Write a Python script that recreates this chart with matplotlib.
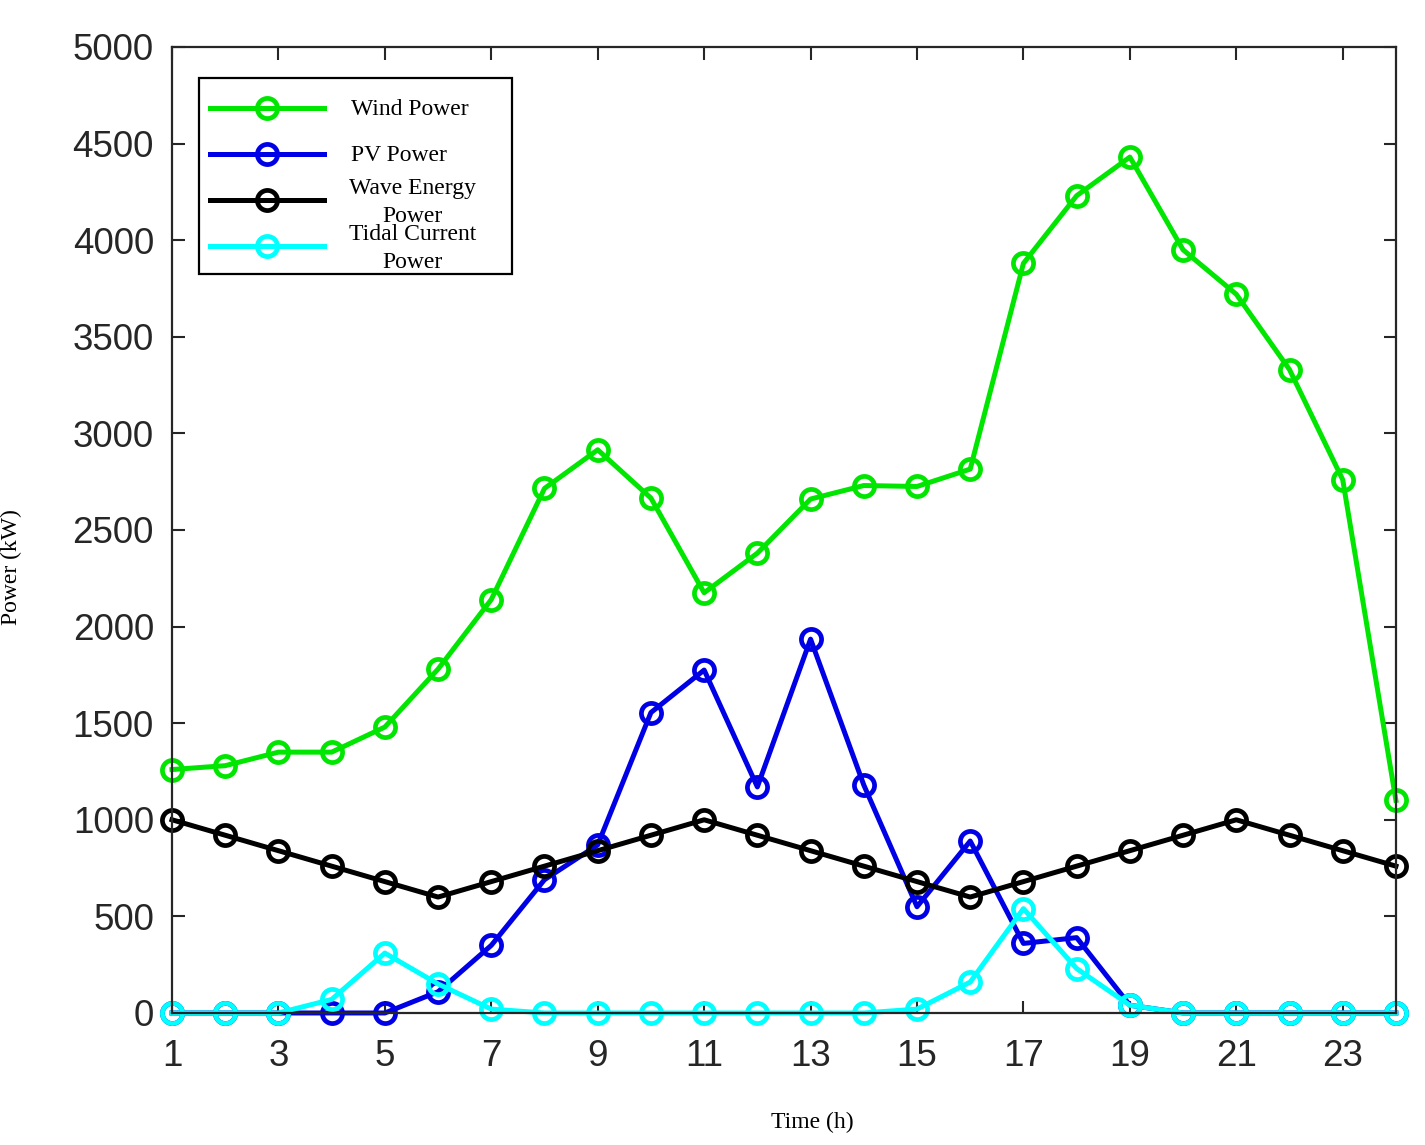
import matplotlib.pyplot as plt
from matplotlib.patches import Rectangle
import numpy as np

# hourly power output of each source (kW)
hours = np.arange(1, 25)
wind_power = [1260, 1280, 1350, 1350, 1480, 1780, 2140, 2715, 2915, 2665, 2175, 2380,
              2660, 2730, 2725, 2815, 3880, 4230, 4430, 3950, 3720, 3330, 2760, 1100]
pv_power = [0, 0, 0, 0, 0, 110, 350, 690, 870, 1555, 1775, 1170,
            1935, 1180, 550, 890, 360, 390, 40, 0, 0, 0, 0, 0]
wave_power = [1000, 920, 840, 760, 680, 600, 680, 760, 840, 920, 1000, 920,
              840, 760, 680, 600, 680, 760, 840, 920, 1000, 920, 840, 760]
tidal_power = [0, 0, 0, 70, 310, 150, 20, 0, 0, 0, 0, 0,
               0, 0, 20, 160, 540, 230, 40, 0, 0, 0, 0, 0]

labels = ["Wind Power", "PV Power", "Wave Energy\nPower", "Tidal Current\nPower"]
colors = ["#00e600", "#0000e6", "#000000", "#00ffff"]
values = [wind_power, pv_power, wave_power, tidal_power]

W, H = 1425, 1145
fig = plt.figure(figsize=(W / 100, H / 100), dpi=100)
ax = fig.add_axes([0.1207, 0.1153, 0.8589, 0.8437])

#one line per source, open circles like the matlab original
lines = []
for vals, col in zip(values, colors):
    ln, = ax.plot(hours, vals, color=col, lw=3.6, marker='o', ms=14.5, mew=3.4,
                  mfc='none', mec=col, clip_on=False)
    lines.append(ln)

ax.set_xlim(1, 24)
ax.set_ylim(0, 5000)
ax.set_xticks(np.arange(1, 24, 2))
ax.set_yticks(np.arange(0, 5001, 500))

tick_font = {'family': 'Liberation Sans', 'size': 26.5}
ax.set_xticklabels([str(h) for h in np.arange(1, 24, 2)], fontdict=tick_font)
ax.set_yticklabels([str(v) for v in np.arange(0, 5001, 500)], fontdict=tick_font)
ax.tick_params(axis='both', direction='in', length=9, width=1.5, colors='#262626',
               top=True, right=True)
ax.tick_params(axis='x', pad=19)
ax.tick_params(axis='y', pad=13)
for sp in ax.spines.values():
    sp.set_linewidth(1.6)
    sp.set_color('#262626')

label_font = {'family': 'Liberation Serif', 'size': 17}
ax.set_xlabel("Time (h)", fontdict=label_font)
ax.set_ylabel("Power (kW)", fontdict=label_font)
ax.xaxis.set_label_coords(0.523, -0.102)
ax.yaxis.set_label_coords(-0.1225, 0.462)

# legend: matlab-style box, rows at fixed pitch, long wrapped labels overlap
def ax_xy(px, py):
    x0, x1, y0, y1 = 172, 1396, 1013, 47
    return (px - x0) / (x1 - x0), (py - y0) / (y1 - y0)

leg = ax.legend(lines, [""] * 4, loc='upper left', bbox_to_anchor=ax_xy(210, 96.4),
                borderaxespad=0, borderpad=0, prop={'size': 10}, handlelength=8.2,
                handleheight=3.949, labelspacing=0.5, handletextpad=0, frameon=False)

fx, fy = ax_xy(199, 274)
fx2, fy2 = ax_xy(512, 78)
ax.add_patch(Rectangle((fx, fy), fx2 - fx, fy2 - fy, transform=ax.transAxes,
                       fill=False, ec='black', lw=1.6, zorder=4))

leg_font = {'family': 'Liberation Serif', 'size': 17}
row_y = [108, 154, 200, 246]
for lab, py in zip(labels, row_y):
    if "\n" in lab:
        tx, ty = ax_xy(413, py + 3)
        ax.text(tx, ty, lab, transform=ax.transAxes, ha='center', va='center',
                multialignment='center', linespacing=1.44, fontdict=leg_font)
    else:
        tx, ty = ax_xy(351, py + 2)
        ax.text(tx, ty, lab, transform=ax.transAxes, ha='left', va='center',
                fontdict=leg_font)

fig.savefig("out.png", dpi=100)
